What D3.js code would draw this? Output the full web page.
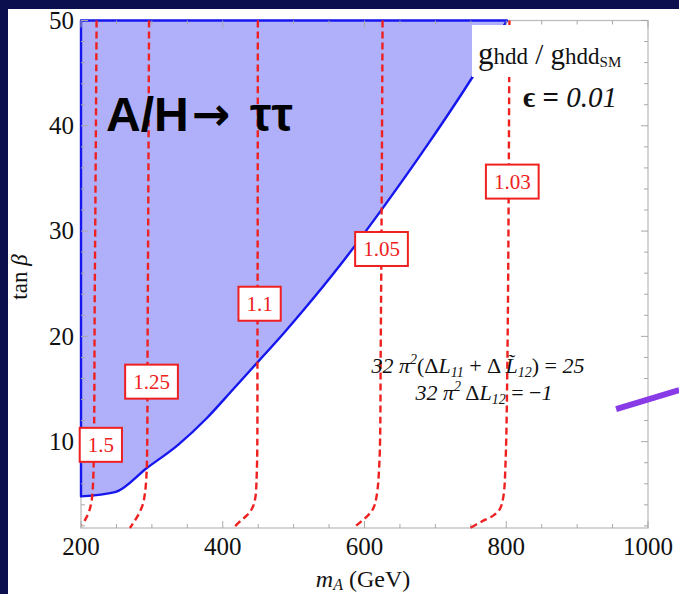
<!DOCTYPE html>
<html>
<head>
<meta charset="utf-8">
<script src="https://cdn.jsdelivr.net/npm/d3@7"></script>
<style>
  html, body { margin: 0; padding: 0; background: #0c0f4e; }
  svg { display: block; }
</style>
</head>
<body>
<div id="chart"></div>
<script>
// x: m_A (GeV), y: tan beta
const X_TICKS = [200, 400, 600, 800, 1000];
const Y_TICKS = [10, 20, 30, 40, 50];

// excluded region boundary (A/H -> tau tau), lower edge from left to right
const BOUNDARY = [
  [200, 4.8], [248, 5.2], [293, 7.5], [337, 9.7], [377, 12.2], [415, 15.0],
  [450, 17.6], [486, 20.3], [514, 22.5], [566, 26.8], [627, 32.3],
  [690, 38.3], [754, 44.8], [801, 50]
];

// g_hdd / g_hdd_SM contours, from top to bottom
const CONTOUR_LABELS = ['1.5', '1.25', '1.1', '1.05', '1.03'];
const CONTOURS = [
  [[222, 50], [219.5, 25], [217, 6], [214.5, 4.2], [211, 3.3], [206, 2.6], [201.5, 2.1]],
  [[296, 50], [294, 20], [292.5, 7], [290, 5], [287, 4], [282, 3.2], [276, 2.5], [269, 1.8]],
  [[449.5, 50], [449, 20], [448, 7], [445.5, 4.5], [441, 3.6], [434, 3.0], [424, 2.4], [415, 1.8]],
  [[625.5, 50], [623, 20], [621, 8], [617, 4.8], [612, 3.6], [605, 3.0], [595, 2.4], [584, 1.8]],
  [[804.5, 50], [802, 20], [799, 8], [796, 4.8], [791, 3.6], [782, 3.0], [765, 2.4], [749, 1.8]]
];
// label box centres (data units)
const LABEL_POS = [[228, 9.7], [299.5, 15.7], [452, 23.1], [624, 28.3], [808.5, 34.7]];

// slide annotation arrow stub (data units)
const ARROW = [[955, 13.1], [1044, 14.9]];

const W = 679, H = 594;
const svg = d3.select('#chart').append('svg').attr('width', W).attr('height', H);

svg.append('rect').attr('width', W).attr('height', H).attr('fill', '#0c0f4e');
svg.append('rect').attr('x', 8).attr('y', 9).attr('width', W - 8).attr('height', H - 9).attr('fill', '#fff');

const x = d3.scaleLinear().domain([200, 1000]).range([81, 648]);
const y = d3.scaleLinear().domain([1.8, 50]).range([528, 20.5]);

const serif = '"Liberation Serif", "DejaVu Serif", serif';

// frame
svg.append('rect')
  .attr('x', x(200)).attr('y', y(50))
  .attr('width', x(1000) - x(200)).attr('height', y(1.8) - y(50))
  .attr('fill', 'none').attr('stroke', '#bdbdbd').attr('stroke-width', 1.3);

// shaded region: smooth lower edge, closed along the top and left
const edge = d3.line().x(d => x(d[0])).y(d => y(d[1])).curve(d3.curveMonotoneX)(BOUNDARY);
svg.append('path')
  .attr('d', edge + `L${x(200)},${y(50)}Z`)
  .attr('fill', '#b0b0fa')
  .attr('stroke', '#1616ee')
  .attr('stroke-width', 2.4)
  .attr('stroke-linejoin', 'round');

// ticks (all four sides, inward)
const tickG = svg.append('g').attr('stroke', '#a8a8a8').attr('stroke-width', 1);
const xMinor = d3.range(200, 1001, 50);
const yMinor = d3.range(2, 51, 2);
xMinor.forEach(v => {
  const len = v % 200 === 0 ? 7 : 4;
  tickG.append('line').attr('x1', x(v)).attr('x2', x(v)).attr('y1', y(1.8)).attr('y2', y(1.8) - len);
  tickG.append('line').attr('x1', x(v)).attr('x2', x(v)).attr('y1', y(50)).attr('y2', y(50) + len);
});
yMinor.forEach(v => {
  const len = v % 10 === 0 ? 7 : 4;
  tickG.append('line').attr('y1', y(v)).attr('y2', y(v)).attr('x1', x(200)).attr('x2', x(200) + len);
  tickG.append('line').attr('y1', y(v)).attr('y2', y(v)).attr('x1', x(1000)).attr('x2', x(1000) - len);
});

// contours
const cline = d3.line().x(d => x(d[0])).y(d => y(d[1])).curve(d3.curveCatmullRom);
svg.append('g').selectAll('path')
  .data(CONTOURS)
  .join('path')
  .attr('d', cline)
  .attr('fill', 'none')
  .attr('stroke', '#ee2020')
  .attr('stroke-width', 2.4)
  .attr('stroke-dasharray', '7,4');

// contour labels
const lab = svg.append('g').selectAll('g')
  .data(CONTOUR_LABELS)
  .join('g')
  .attr('transform', (d, i) => `translate(${x(LABEL_POS[i][0])},${y(LABEL_POS[i][1])})`);
lab.append('text')
  .attr('text-anchor', 'middle')
  .attr('dy', '0.35em')
  .attr('font-family', serif)
  .attr('font-size', 21)
  .attr('fill', '#ee2020')
  .text(d => d)
  .each(function() {
    const b = this.getBBox();
    d3.select(this.parentNode).insert('rect', 'text')
      .attr('x', b.x - 8).attr('y', -17)
      .attr('width', b.width + 16).attr('height', 34)
      .attr('fill', '#fff')
      .attr('stroke', '#ee2020')
      .attr('stroke-width', 2);
  });

// legend box g_hdd / g_hdd_SM
svg.append('rect').attr('x', 472).attr('y', 25).attr('width', 153).attr('height', 52).attr('fill', '#fff');
const gt = svg.append('text').attr('x', 478).attr('y', 64).attr('font-family', serif).attr('fill', '#111');
gt.append('tspan').attr('font-size', 31).text('g');
gt.append('tspan').attr('font-size', 23).text('hdd');
gt.append('tspan').attr('font-size', 29).text(' / g');
gt.append('tspan').attr('font-size', 23).text('hdd');
gt.append('tspan').attr('font-size', 15).attr('dy', 3).text('SM');

const eps = svg.append('text').attr('x', 523).attr('y', 107).attr('font-family', serif).attr('font-size', 29).attr('fill', '#111');
eps.append('tspan').attr('font-weight', 'bold').text('\u03F5 = ');
eps.append('tspan').attr('font-style', 'italic').text('0.01');

// big title on the region
const title = svg.append('text')
  .attr('x', 106).attr('y', 131)
  .attr('font-family', '"Liberation Sans", Arial, sans-serif')
  .attr('font-weight', 'bold')
  .attr('font-size', 48)
  .attr('fill', '#000');
title.append('tspan').text('A/H');
title.append('tspan').attr('x', 192).attr('dy', -1).attr('font-family', '"DejaVu Sans", sans-serif').attr('font-size', 46).text('\u2192');
title.append('tspan').attr('x', 250).attr('dy', 1).text('\u03C4\u03C4');

// equations
const e1 = svg.append('text').attr('x', 478).attr('y', 373).attr('text-anchor', 'middle')
  .attr('font-family', serif).attr('font-size', 22).attr('font-style', 'italic').attr('fill', '#111');
e1.append('tspan').text('32 \u03C0');
e1.append('tspan').attr('font-size', 14).attr('dy', -9).text('2');
e1.append('tspan').attr('dy', 9).attr('font-style', 'normal').text('(\u0394');
e1.append('tspan').text('L');
e1.append('tspan').attr('font-size', 14).attr('dy', 4).text('11');
e1.append('tspan').attr('dy', -4).attr('font-style', 'normal').text(' + \u0394 ');
e1.append('tspan').text('L\u0303');
e1.append('tspan').attr('font-size', 14).attr('dy', 4).text('12');
e1.append('tspan').attr('dy', -4).attr('font-style', 'normal').text(') = ');
e1.append('tspan').text('25');

const e2 = svg.append('text').attr('x', 484).attr('y', 400).attr('text-anchor', 'middle')
  .attr('font-family', serif).attr('font-size', 22).attr('font-style', 'italic').attr('fill', '#111');
e2.append('tspan').text('32 \u03C0');
e2.append('tspan').attr('font-size', 14).attr('dy', -9).text('2');
e2.append('tspan').attr('dy', 9).attr('font-style', 'normal').text(' \u0394');
e2.append('tspan').text('L');
e2.append('tspan').attr('font-size', 14).attr('dy', 4).text('12');
e2.append('tspan').attr('dy', -4).attr('font-style', 'normal').text(' = \u2212');
e2.append('tspan').text('1');

// tick labels
svg.append('g').selectAll('text')
  .data(X_TICKS)
  .join('text')
  .attr('x', d => x(d)).attr('y', 555)
  .attr('text-anchor', 'middle')
  .attr('font-family', serif).attr('font-size', 25).attr('fill', '#111')
  .text(d => d);
svg.append('g').selectAll('text')
  .data(Y_TICKS)
  .join('text')
  .attr('x', 74).attr('y', d => y(d)).attr('dy', '0.33em')
  .attr('text-anchor', 'end')
  .attr('font-family', serif).attr('font-size', 25).attr('fill', '#111')
  .text(d => d);

// axis titles
const xt = svg.append('text').attr('x', 363).attr('y', 587).attr('text-anchor', 'middle')
  .attr('font-family', serif).attr('font-size', 24).attr('fill', '#111');
xt.append('tspan').attr('font-style', 'italic').text('m');
xt.append('tspan').attr('font-style', 'italic').attr('font-size', 16).attr('dy', 3).text('A');
xt.append('tspan').attr('dy', -3).text(' (GeV)');

const yt = svg.append('text').attr('transform', 'translate(27,277) rotate(-90)').attr('text-anchor', 'middle')
  .attr('font-family', serif).attr('font-size', 23).attr('fill', '#111');
yt.append('tspan').text('tan ');
yt.append('tspan').attr('font-style', 'italic').text('\u03B2');

// purple arrow stub from the slide
svg.append('line')
  .attr('x1', x(ARROW[0][0])).attr('y1', y(ARROW[0][1]))
  .attr('x2', x(ARROW[1][0])).attr('y2', y(ARROW[1][1]))
  .attr('stroke', '#8a3be8').attr('stroke-width', 6);
</script>
</body>
</html>
